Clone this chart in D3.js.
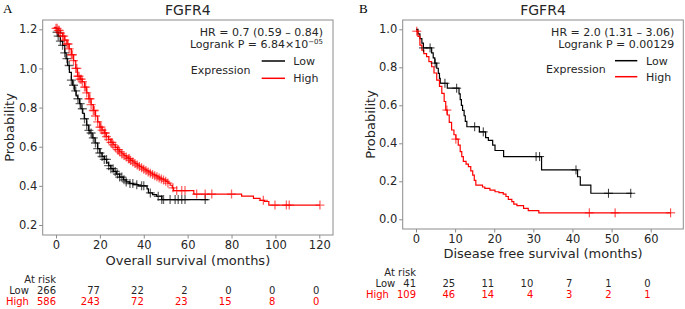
<!DOCTYPE html>
<html>
<head>
<meta charset="utf-8">
<script src="https://cdnjs.cloudflare.com/ajax/libs/d3/7.8.5/d3.min.js"></script>
<style>
  html, body { margin: 0; padding: 0; background: #fff; }
  svg { display: block; font-family: "DejaVu Sans", sans-serif; }
</style>
</head>
<body>
<svg id="chart" width="685" height="309"></svg>
<script>
const C = { low: "#000000", high: "#ff0000", text: "#262626", frame: "#8c8c8c" };

// ---- Panel A: overall survival (months, probability) ----
const osLow = [
  [0, 1.185], [1, 1.165], [2, 1.14], [3, 1.118], [4, 1.08], [4.6, 1.05], [5.3, 1.015],
  [6.1, 0.98], [7, 0.94], [7.6, 0.914], [8.5, 0.885], [9.2, 0.86], [9.9, 0.845],
  [10.7, 0.82], [11.4, 0.794], [12.2, 0.77], [12.9, 0.743], [14, 0.71], [14.9, 0.684],
  [15.5, 0.67], [16.5, 0.645], [17.8, 0.619], [19, 0.59], [20, 0.568], [21, 0.55],
  [22, 0.535], [23.1, 0.517], [24, 0.503], [25, 0.488], [26.1, 0.474], [27.5, 0.46],
  [29, 0.445], [30.7, 0.431], [32, 0.42], [33.5, 0.412], [35.2, 0.406], [37.5, 0.4],
  [41.5, 0.385], [42.1, 0.364], [44, 0.355], [45.9, 0.347], [48.2, 0.33], [69.4, 0.33]
];
const osHigh = [
  [-1, 1.21], [0, 1.205], [1, 1.195], [2, 1.18], [3, 1.165], [4, 1.145], [5, 1.125],
  [6, 1.1], [7, 1.07], [8, 1.04], [9, 1.0], [9.8, 0.96], [11, 0.945], [12, 0.932],
  [13, 0.905], [14, 0.875], [15, 0.845], [16, 0.815], [17, 0.785], [18, 0.757],
  [19, 0.727], [20, 0.7], [21, 0.685], [22, 0.67], [23, 0.652], [24, 0.637], [25, 0.622],
  [26, 0.61], [27, 0.597], [28, 0.585], [29, 0.574], [30, 0.563], [31, 0.555], [32, 0.547],
  [33, 0.539], [34, 0.53], [35, 0.522], [36, 0.514], [37, 0.506], [38, 0.499], [39, 0.492],
  [40, 0.485], [41, 0.478], [42, 0.471], [43, 0.465], [44, 0.458], [45, 0.452], [46, 0.446],
  [47, 0.44], [48, 0.435], [49, 0.43], [50, 0.423], [51, 0.414], [52, 0.403], [53, 0.39],
  [53.6, 0.376], [62.8, 0.358], [84.6, 0.348], [90, 0.336], [93, 0.326], [95, 0.32],
  [97, 0.302], [120.3, 0.302]
];
const osLowCensor = [
  0.5, 1, 2, 3, 4, 5, 6, 7, 8, 9, 10, 11, 12, 13, 14, 15, 16, 17, 18, 19, 20, 21, 22, 23,
  24, 25, 26, 27, 28, 29, 30, 31, 32, 33.7, 35, 36.8, 39, 40, 43, 46.6, 48.2, 49, 52, 54.3,
  55.7, 57.3, 58.8, 68
];
const osHighCensor = [
  0, 0.5, 1, 1.5, 2, 3, 3.5, 4, 5, 5.5, 6, 7, 7.5, 8, 9, 9.5, 10, 10.5, 11, 11.5, 12, 13,
  13.5, 14, 15, 15.5, 16, 17, 17.5, 18, 19, 20, 20.5, 21, 22, 22.5, 23, 24, 25, 25.5, 26, 27,
  28, 28.5, 29, 30, 31, 32, 33, 33.5, 34, 35, 36, 37, 38, 39, 40, 41, 42, 43, 44, 45, 46, 47,
  48, 49, 50, 51, 53.3, 55, 57.3, 58.8, 64.1, 68, 71, 80, 94.5, 99.8, 105, 106.3, 120.3
];
const osXTicks = [0, 20, 40, 60, 80, 100, 120];
const osYTicks = [0.2, 0.4, 0.6, 0.8, 1.0, 1.2];
const osRiskLow = [266, 77, 22, 2, 0, 0, 0];
const osRiskHigh = [586, 243, 72, 23, 15, 8, 0];

// ---- Panel B: disease free survival ----
const dfsLow = [
  [0, 1.0], [0.5, 0.976], [1.0, 0.951], [1.5, 0.927], [1.9, 0.902], [4.0, 0.876],
  [4.4, 0.85], [4.8, 0.822], [5.3, 0.795], [5.7, 0.768], [6.0, 0.742], [6.2, 0.716],
  [8.0, 0.69], [11.0, 0.66], [11.3, 0.63], [11.6, 0.6], [11.9, 0.573], [12.3, 0.545],
  [12.6, 0.515], [13.0, 0.487], [16.2, 0.46], [17.8, 0.43], [18.5, 0.415], [19.6, 0.39],
  [20.2, 0.362], [22.4, 0.33], [32.1, 0.26], [41.3, 0.224], [42.0, 0.18], [44.7, 0.137],
  [55.2, 0.137]
];
const dfsHigh = [
  [0, 0.99], [0.5, 0.963], [1.0, 0.917], [1.5, 0.89], [2.0, 0.872], [2.7, 0.856],
  [3.3, 0.83], [4.0, 0.803], [4.6, 0.77], [5.3, 0.733], [6.0, 0.7], [6.6, 0.663],
  [7.2, 0.62], [7.6, 0.575], [8.0, 0.549], [8.5, 0.51], [9.1, 0.47], [9.7, 0.445],
  [10.2, 0.422], [10.8, 0.39], [11.3, 0.356], [11.7, 0.33], [12.1, 0.305], [12.8, 0.29],
  [13.4, 0.277], [14.0, 0.255], [14.5, 0.233], [14.9, 0.205], [15.3, 0.18], [17.0, 0.17],
  [17.6, 0.163], [18.9, 0.154], [20.2, 0.145], [21.2, 0.14], [22.3, 0.132], [23.0, 0.12],
  [23.6, 0.105], [24.5, 0.093], [25.0, 0.08], [25.8, 0.072], [27.5, 0.058], [28.7, 0.046],
  [31.4, 0.034], [65.1, 0.034]
];
const dfsLowCensor = [1.9, 3.6, 4.9, 7.4, 10.4, 15.0, 17.2, 30.7, 31.6, 40.9, 49.2, 54.9];
const dfsHighCensor = [0.2, 7.9, 10.2, 44.3, 50.9, 65.1];
const dfsXTicks = [0, 10, 20, 30, 40, 50, 60];
const dfsYTicks = [0.0, 0.2, 0.4, 0.6, 0.8, 1.0];
const dfsRiskLow = [41, 25, 11, 10, 7, 1, 0];
const dfsRiskHigh = [109, 46, 14, 4, 3, 2, 1];

const svg = d3.select("#chart");

// step lookup for placing censor marks on the curve
const bis = d3.bisector((d) => d[0]).right;
function survAt(curve, t) {
  const i = Math.max(0, bis(curve, t) - 1);
  return curve[i][1];
}

function drawPanel(cfg) {
  const b = cfg.box;
  const x = d3.scaleLinear().domain(cfg.xAnchor).range(cfg.xRange);
  const y = d3.scaleLinear().domain(cfg.yAnchor).range(cfg.yRange);
  const g = svg.append("g");

  g.append("text")
    .attr("x", cfg.letter.x).attr("y", cfg.letter.y)
    .attr("font-family", "'Liberation Serif', serif").attr("font-size", 13)
    .attr("fill", "#000").text(cfg.letter.t);

  g.append("text")
    .attr("x", (b.l + b.r) / 2).attr("y", 15)
    .attr("text-anchor", "middle").attr("font-size", 14)
    .attr("fill", C.text).text("FGFR4");

  const clipId = "clip" + cfg.letter.t;
  g.append("clipPath").attr("id", clipId)
    .append("rect").attr("x", b.l).attr("y", b.t)
    .attr("width", b.r - b.l).attr("height", b.b - b.t);

  // axes
  g.append("g").attr("transform", `translate(0,${b.b})`)
    .call(d3.axisBottom(x).tickValues(cfg.xTicks).tickSize(3.5).tickPadding(2).tickFormat(d3.format("d")))
    .call((a) => a.select(".domain").remove())
    .call((a) => a.selectAll("line").attr("stroke", C.frame))
    .call((a) => a.selectAll("text").attr("fill", C.text).attr("font-size", 11.5)
      .attr("font-family", "'DejaVu Sans', sans-serif"));

  g.append("g").attr("transform", `translate(${b.l},0)`)
    .call(d3.axisLeft(y).tickValues(cfg.yTicks).tickSize(3.5).tickPadding(2).tickFormat(d3.format(".1f")))
    .call((a) => a.select(".domain").remove())
    .call((a) => a.selectAll("line").attr("stroke", C.frame))
    .call((a) => a.selectAll("text").attr("fill", C.text).attr("font-size", 11.5)
      .attr("font-family", "'DejaVu Sans', sans-serif"));

  g.append("rect")
    .attr("x", b.l).attr("y", b.t).attr("width", b.r - b.l).attr("height", b.b - b.t)
    .attr("fill", "none").attr("stroke", C.frame).attr("stroke-width", 1);

  g.append("text")
    .attr("x", (b.l + b.r) / 2).attr("y", cfg.xLabelY)
    .attr("text-anchor", "middle").attr("font-size", 13)
    .attr("fill", C.text).text(cfg.xLabel);

  g.append("text")
    .attr("transform", `translate(${cfg.yLabelX},${(b.t + b.b) / 2}) rotate(-90)`)
    .attr("text-anchor", "middle").attr("font-size", 13)
    .attr("fill", C.text).text("Probability");

  // curves
  const line = d3.line().x((d) => x(d[0])).y((d) => y(d[1])).curve(d3.curveStepAfter);
  const plot = g.append("g").attr("clip-path", `url(#${clipId})`);
  cfg.series.forEach((s) => {
    plot.append("path").datum(s.curve)
      .attr("fill", "none").attr("stroke", s.color).attr("stroke-width", 1.2)
      .attr("d", line);
  });
  cfg.series.forEach((s) => {
    plot.selectAll(null).data(s.censor).enter().append("path")
      .attr("transform", (t) => `translate(${x(t)},${y(survAt(s.curve, t))})`)
      .attr("d", "M-4.5,0H4.5M0,-4.5V4.5")
      .attr("stroke", s.color).attr("stroke-width", cfg.censorWidth)
      .attr("opacity", cfg.censorOpacity);
  });

  // stats
  g.append("text")
    .attr("x", b.r - cfg.statInset).attr("y", 36)
    .attr("text-anchor", "end").attr("font-size", 11)
    .attr("fill", C.text).text(cfg.hr);
  const lr = g.append("text")
    .attr("x", b.r - cfg.statInset).attr("y", 48)
    .attr("text-anchor", "end").attr("font-size", 11)
    .attr("fill", C.text);
  lr.append("tspan").text(cfg.logrank[0]);
  if (cfg.logrank[1]) {
    lr.append("tspan").attr("dy", -4).attr("font-size", 7).text(cfg.logrank[1]);
  }

  // legend
  const L = cfg.legend;
  g.append("text")
    .attr("x", L.x).attr("y", L.y).attr("dy", "0.35em")
    .attr("font-size", 11).attr("fill", C.text).text("Expression");
  [["Low", C.low, L.lowY], ["High", C.high, L.highY]].forEach(([lab, col, yy]) => {
    g.append("line")
      .attr("x1", L.x1).attr("x2", L.x2).attr("y1", yy).attr("y2", yy)
      .attr("stroke", col).attr("stroke-width", 1.5);
    g.append("text")
      .attr("x", L.tx).attr("y", yy).attr("dy", "0.35em")
      .attr("font-size", 11).attr("fill", C.text).text(lab);
  });

  // at risk table
  const R = cfg.risk;
  g.append("text")
    .attr("x", x(cfg.xTicks[0])).attr("y", R.headY).attr("dy", "0.35em")
    .attr("text-anchor", "end").attr("font-size", 10)
    .attr("fill", C.text).text("At risk");
  [["Low", cfg.riskLow, C.text, R.lowY], ["High", cfg.riskHigh, C.high, R.highY]].forEach(
    ([lab, vals, col, yy]) => {
      vals.forEach((v, i) => {
        const t = g.append("text")
          .attr("x", x(cfg.xTicks[i])).attr("y", yy).attr("dy", "0.35em")
          .attr("text-anchor", "end").attr("font-size", 10).attr("fill", col);
        if (i === 0) {
          t.append("tspan").text(lab);
          t.append("tspan").attr("dx", 8).text(v);
        } else {
          t.text(v);
        }
      });
    }
  );
}

drawPanel({
  letter: { t: "A", x: 3, y: 13 },
  box: { l: 42.7, r: 333, t: 20, b: 235 },
  xAnchor: [0, 120], xRange: [56, 319.3],
  yAnchor: [0.2, 1.2], yRange: [225, 29.3],
  xTicks: osXTicks, yTicks: osYTicks,
  xLabel: "Overall survival (months)", xLabelY: 265, yLabelX: 14,
  hr: "HR = 0.7 (0.59 \u2013 0.84)",
  logrank: ["Logrank P = 6.84\u00d710", "\u221205"],
  statInset: 10,
  legend: { x: 190.7, y: 70, x1: 261.7, x2: 285, lowY: 61, highY: 78.3, tx: 293.3 },
  risk: { headY: 279.3, lowY: 290.7, highY: 301.7 },
  riskLow: osRiskLow, riskHigh: osRiskHigh,
  censorOpacity: 0.6, censorWidth: 1.3,
  series: [
    { curve: osLow, censor: osLowCensor, color: C.low },
    { curve: osHigh, censor: osHighCensor, color: C.high }
  ]
});

drawPanel({
  letter: { t: "B", x: 359, y: 13 },
  box: { l: 402.7, r: 683.3, t: 20, b: 229 },
  xAnchor: [0, 60], xRange: [416, 650.7],
  yAnchor: [0, 1], yRange: [219.3, 29.3],
  xTicks: dfsXTicks, yTicks: dfsYTicks,
  xLabel: "Disease free survival (months)", xLabelY: 258, yLabelX: 375,
  hr: "HR = 2.0 (1.31 \u2013 3.06)",
  logrank: ["Logrank P = 0.00129", null],
  statInset: 9,
  legend: { x: 546, y: 69, x1: 615, x2: 637.3, lowY: 60.7, highY: 76.7, tx: 646 },
  risk: { headY: 272.7, lowY: 283.3, highY: 294 },
  riskLow: dfsRiskLow, riskHigh: dfsRiskHigh,
  censorOpacity: 0.8, censorWidth: 1,
  series: [
    { curve: dfsLow, censor: dfsLowCensor, color: C.low },
    { curve: dfsHigh, censor: dfsHighCensor, color: C.high }
  ]
});
</script>
</body>
</html>
